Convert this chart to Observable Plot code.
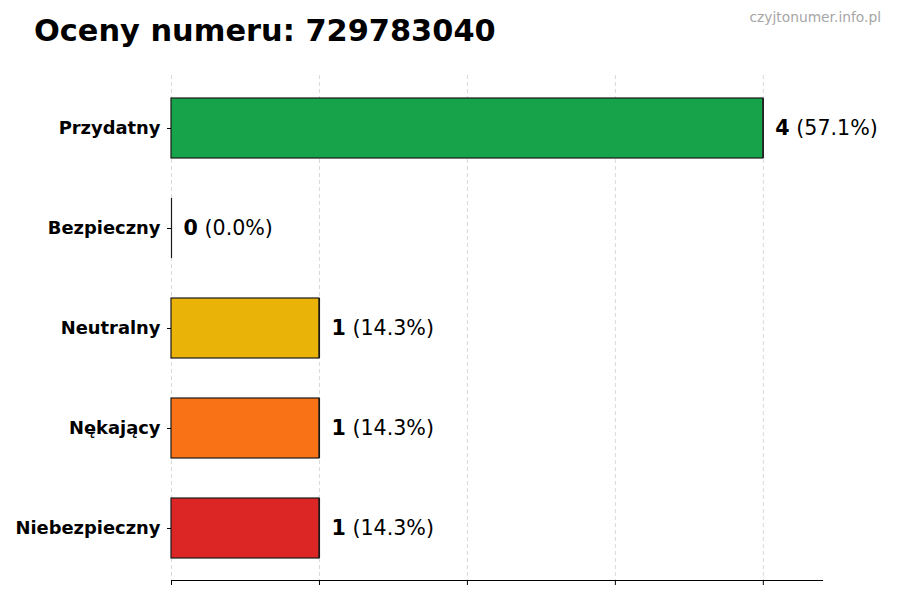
<!DOCTYPE html>
<html>
<head>
<meta charset="utf-8">
<script src="https://cdn.jsdelivr.net/npm/d3@7"></script>
<script src="https://cdn.jsdelivr.net/npm/@observablehq/plot@0.6"></script>
<style>
  html, body { margin: 0; padding: 0; background: #fff; }
  body { width: 900px; height: 600px; position: relative; overflow: hidden; font-family: "DejaVu Sans", sans-serif; }
  #chart { position: absolute; left: 0; top: 0; z-index: 1; }
  #title { position: absolute; left: 34px; top: 13px; font-size: 30.4px; font-weight: bold; color: #000; white-space: nowrap; z-index: 2; }
  #wm { position: absolute; right: 19px; top: 9px; font-size: 13.8px; color: #a6a6a6; white-space: nowrap; z-index: 2; }
</style>
</head>
<body>
<div id="chart"></div>
<div id="title">Oceny numeru: 729783040</div>
<div id="wm">czyjtonumer.info.pl</div>
<script>
const categories = ["Przydatny", "Bezpieczny", "Neutralny", "Nękający", "Niebezpieczny"];
const counts = [4, 0, 1, 1, 1];
const percents = ["57.1%", "0.0%", "14.3%", "14.3%", "14.3%"];
const colors = ["#16a34a", "#3b82f6", "#eab308", "#f97316", "#dc2626"];
const xTicks = [0, 1, 2, 3, 4];

const data = categories.map((c, i) => ({cat: c, value: counts[i], pct: percents[i], color: colors[i]}));

const chart = Plot.plot({
  width: 900,
  height: 600,
  marginTop: 75,
  marginBottom: 20,
  marginLeft: 171,
  marginRight: 78,
  style: {fontFamily: "DejaVu Sans, sans-serif", background: "transparent"},
  x: {domain: [0, 4.4], ticks: xTicks, label: null},
  y: {domain: categories, paddingInner: 0.4, paddingOuter: 0.225, label: null},
  marks: [
    Plot.gridX(xTicks, {stroke: "#bbb", strokeOpacity: 0.7, strokeDasharray: "4,3", strokeWidth: 0.8}),
    Plot.barX(data, {x: "value", y: "cat", fill: d => d.color, stroke: "#1a1a1a", strokeWidth: 1.2}),
    Plot.tickX(data, {x: "value", y: "cat", stroke: "#1a1a1a", strokeWidth: 1.2}),
    Plot.frame({anchor: "bottom", stroke: "#000", strokeWidth: 1.1}),
    Plot.axisX({ticks: xTicks, tickFormat: () => "", tickSize: 5, stroke: "#000", label: null}),
    Plot.axisY({tickSize: 4, tickPadding: 7, fontSize: 17.9, fontWeight: "bold", fill: "#000", label: null}),
    Plot.text(data, {x: "value", y: "cat", text: d => String(d.value), dx: 12, textAnchor: "start", fontSize: 20.6, fontWeight: "bold", fill: "#000"}),
    Plot.text(data, {x: "value", y: "cat", text: d => "(" + d.pct + ")", dx: 33, textAnchor: "start", fontSize: 20.6, fill: "#000"})
  ]
});
document.getElementById("chart").appendChild(chart);
</script>
</body>
</html>
